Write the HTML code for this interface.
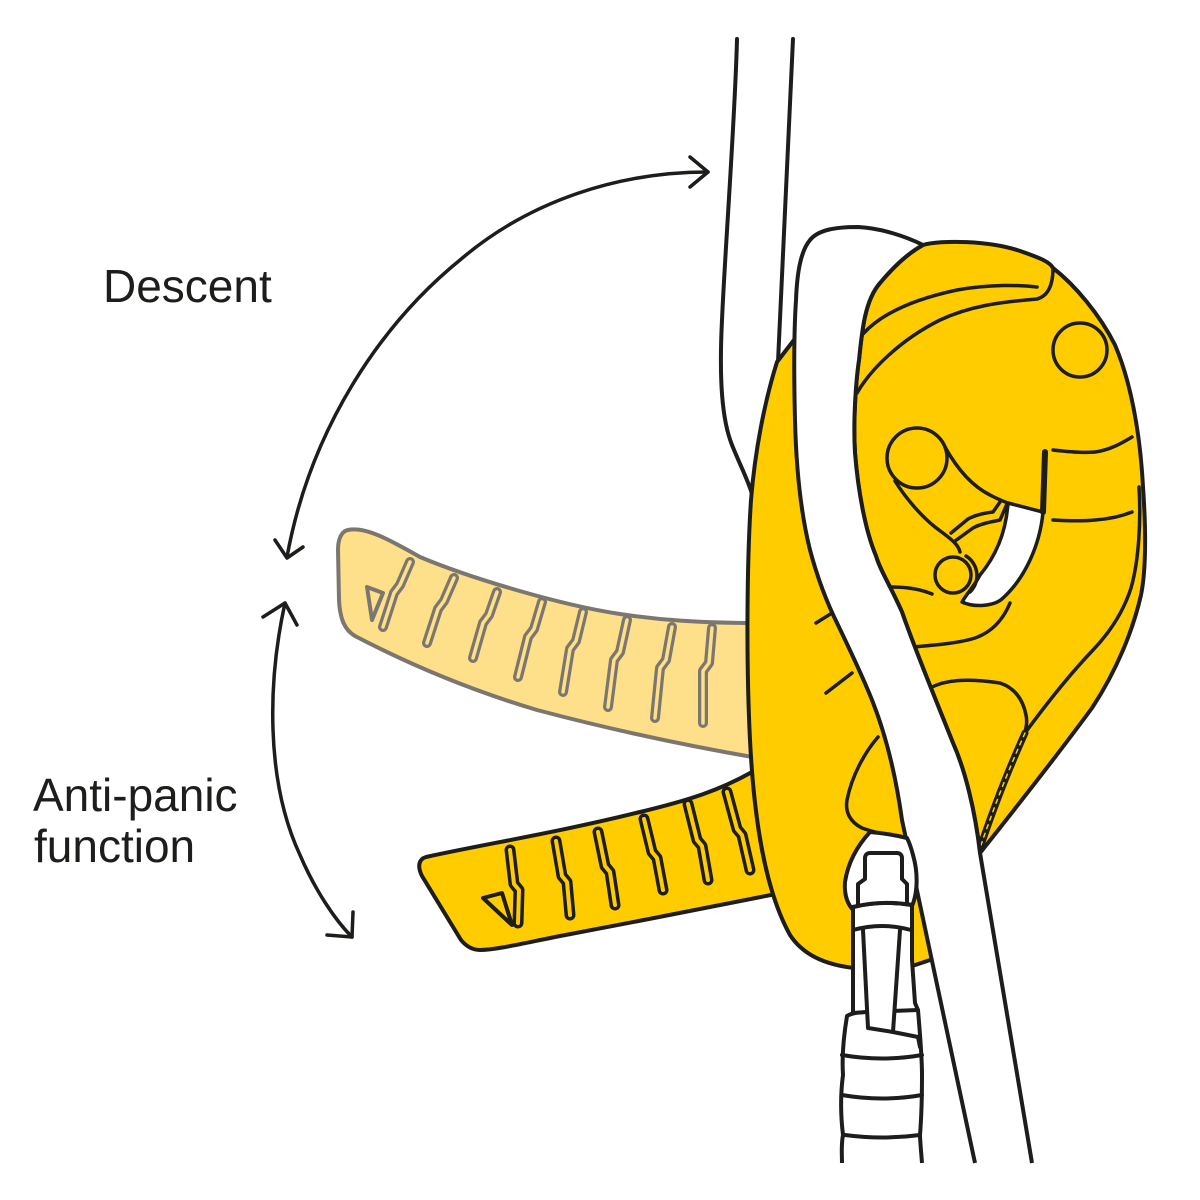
<!DOCTYPE html>
<html><head><meta charset="utf-8"><style>
html,body{margin:0;padding:0;background:#fff;}
svg{display:block;}
text{font-family:"Liberation Sans",Arial,sans-serif;fill:#1d1d1b;}
</style></head><body>
<svg width="1200" height="1200" viewBox="0 0 1200 1200" xmlns="http://www.w3.org/2000/svg">
<rect width="1200" height="1200" fill="#fff"/>
<g fill="none" stroke="#1d1d1b" stroke-linecap="round" stroke-linejoin="round">

<!-- arrows -->
<g stroke-width="3.5">
<path d="M708,172 C620,172 530,200 460,260 C380,325 310,430 287,557"/>
<path d="M690,157 L708,172 L690,187"/>
<path d="M275,540 L287,558 L303,547"/>
<path d="M285,603 C268,680 265,780 300,855 C315,890 335,920 352,937"/>
<path d="M263,617 L285,603 L297,625"/>
<path d="M327,935 L352,937 L353,912"/>
</g>

<!-- faded handle -->
<path d="M348,530 C365,526 390,540 420,557 C470,578 560,605 620,614 C660,620 700,623 758,623 L758,758 C700,748 620,732 537,710 C480,693 420,670 355,636 C345,630 340,620 339,600 L338,550 C338,538 342,531 348,530 Z" fill="#FEE08A" stroke="#7b7770" stroke-width="4"/>
<g stroke="#7b7770" stroke-width="10">
<path d="M410,562 L400,585 L394,593 L383,627"/>
<path d="M454,578 L444,601 L438,609 L427,643"/>
<path d="M497,592 L489,615 L483,623 L473,658"/>
<path d="M542,602 L534,629 L528,637 L518,677"/>
<path d="M583,612 L576,641 L570,649 L563,692"/>
<path d="M627,620 L620,652 L614,660 L608,707"/>
<path d="M672,627 L666,660 L660,668 L655,718"/>
<path d="M712,628 L709,663 L703,671 L703,723"/>
</g>
<g stroke="#FEE08A" stroke-width="3.5">
<path d="M410,562 L400,585 L394,593 L383,627"/>
<path d="M454,578 L444,601 L438,609 L427,643"/>
<path d="M497,592 L489,615 L483,623 L473,658"/>
<path d="M542,602 L534,629 L528,637 L518,677"/>
<path d="M583,612 L576,641 L570,649 L563,692"/>
<path d="M627,620 L620,652 L614,660 L608,707"/>
<path d="M672,627 L666,660 L660,668 L655,718"/>
<path d="M712,628 L709,663 L703,671 L703,723"/>
</g>
<path d="M367,587 L383,593 L372,620 Z" fill="#FEE08A" stroke="#7b7770" stroke-width="4"/>

<!-- lower handle -->
<path d="M426,857 C480,845 560,832 640,812 C690,800 720,790 752,772 L772,772 L776,894 C720,905 620,925 555,937 C520,944 495,950 480,950 C472,950 466,946 461,940 L422,876 C417,866 419,859 426,857 Z" fill="#FFCC00" stroke-width="4"/>
<g stroke-width="11">
<path d="M510,850 L514,884 L519,890 L518,923"/>
<path d="M556,841 L562,876 L567,882 L570,915"/>
<path d="M598,832 L605,866 L610,872 L615,905"/>
<path d="M644,819 L652,852 L657,858 L663,890"/>
<path d="M688,804 L697,840 L702,846 L708,880"/>
<path d="M727,792 L737,829 L742,835 L750,870"/>
</g>
<g stroke="#FFCC00" stroke-width="4">
<path d="M510,850 L514,884 L519,890 L518,923"/>
<path d="M556,841 L562,876 L567,882 L570,915"/>
<path d="M598,832 L605,866 L610,872 L615,905"/>
<path d="M644,819 L652,852 L657,858 L663,890"/>
<path d="M688,804 L697,840 L702,846 L708,880"/>
<path d="M727,792 L737,829 L742,835 L750,870"/>
</g>
<path d="M483,898 L502,893 L512,925 Z" fill="#FFCC00" stroke-width="4"/>

<!-- top rope lines -->
<g stroke-width="4">
<path d="M737,39 C735,120 725,250 722,320 C719,380 722,420 732,445 C740,465 748,480 752,494"/>
<path d="M793,39 L778,362"/>
</g>

<!-- back plate -->
<path d="M797,336 L777,362 C765,400 755,450 751,500 C747,560 746,660 750,740 C754,820 765,890 790,935 C803,955 825,965 855,968 L912,966 C925,962 935,958 945,955 L905,800 L850,620 L812,480 L805,336 Z" fill="#FFCC00" stroke-width="4"/>
<g stroke-width="3.5">
<path d="M816,623 L832,613"/>
<path d="M826,693 L852,673"/>
<path d="M878,737 C865,752 852,775 847,800 C845,812 850,822 862,828 C875,833 895,836 907,843"/>
</g>

<!-- front body -->
<path d="M923,245 C940,240 990,240 1023,252 C1040,258 1050,262 1053,268 C1075,285 1100,315 1115,345 C1130,380 1140,430 1143,487 C1146,530 1146,570 1141,595 C1133,630 1117,670 1092,708 C1070,738 1030,790 980,853 C975,810 965,770 953,743 C940,710 915,650 902,612 C890,585 880,570 876,556 C865,530 858,490 855,453 C853,420 856,380 859,360 C862,330 865,300 880,283 C895,265 910,252 923,245 Z" fill="#FFCC00" stroke-width="4"/>
<g stroke-width="3.5">
<path d="M863,334 C880,315 910,300 957,290 C990,284 1020,285 1037,287"/>
<path d="M857,393 C870,370 900,340 940,320 C970,306 1000,302 1037,299 C1048,296 1053,285 1053,268"/>
<circle cx="1080" cy="350" r="27"/>
<circle cx="917" cy="458" r="30"/>
<path d="M945,447 C955,465 970,485 990,495 C1005,503 1020,508 1040,512"/>
<path d="M895,481 C905,497 920,515 935,527 C948,537 958,543 960,552"/>
<path d="M951,533 L968,519 C975,515 985,513 993,512 L1000,502"/>
<path d="M955,541 L973,528 C980,524 990,522 1000,520 L1007,504"/>
<path d="M1043,512 C1040,545 1025,578 1003,598 C995,606 975,608 962,602 C968,592 975,585 980,575 C995,557 1006,533 1008,503 Z" fill="#fff"/>
<circle cx="953" cy="575" r="18" fill="#FFCC00"/>
<path d="M966,556 A23,23 0 0 1 970,592"/>
<path d="M1053,450 C1070,452 1085,453 1095,452 C1110,450 1122,443 1132,437"/>
<path d="M1053,520 C1070,521 1085,521 1095,520 C1110,519 1122,516 1132,512"/>
<path d="M892,587 C905,587 920,589 932,594"/>
<path d="M913,647 C935,645 960,643 975,638 C992,632 1003,620 1010,603"/>
<path d="M930,688 C945,680 965,678 1000,683 C1015,688 1023,700 1026,715 C1028,725 1025,733 1022,737"/>
<path d="M1139,487 C1141,520 1139,560 1131,588 C1124,610 1112,630 1093,650 C1072,672 1047,703 1025,733"/>
</g>
<path d="M1045,452 L1043,512" stroke-width="6"/>
<path d="M1025,733 C1013,760 1000,790 981,845" stroke-width="7"/>
<path d="M1025,733 C1013,760 1000,790 981,845" stroke="#FFCC00" stroke-width="1.5" stroke-dasharray="4 5"/>

<!-- rope band over device -->
<path d="M923,245 C905,236 880,228 858,227 C835,227 818,230 810,240 C800,252 797,275 796,300 C794,330 794,380 795,420 C796,460 800,510 810,550 C818,580 828,605 838,625 C850,650 862,675 872,700 C884,730 895,770 902,820 L975,1163 L1032,1163 L980,853 C975,810 965,770 953,743 C940,710 915,650 902,612 C890,585 880,570 876,556 C865,530 858,490 855,453 C853,420 856,380 859,360 C862,330 865,300 880,283 C895,265 910,252 923,245 Z" fill="#fff" stroke="none"/>
<g stroke-width="4">
<path d="M923,245 C905,236 880,228 858,227 C835,227 818,230 810,240 C800,252 797,275 796,300 C794,330 794,380 795,420 C796,460 800,510 810,550 C818,580 828,605 838,625 C850,650 862,675 872,700 C884,730 895,770 902,820 L975,1163" stroke-linecap="butt"/>
<path d="M923,245 C910,252 895,265 880,283 C865,300 862,330 859,360 C856,380 853,420 855,453 C858,490 865,530 876,556 C880,570 890,585 902,612 C915,650 940,710 953,743 C965,770 975,810 980,853 L1032,1163" stroke-linecap="butt"/>
</g>

<!-- carabiner -->
<g stroke-width="4">
<path d="M870,832 C858,845 848,862 845,882 C844,896 848,905 854,911 L912,906 C918,892 918,872 913,855 C911,847 909,842 907,838 C895,835 882,833 870,832 Z" fill="#fff"/>
<path d="M847,1016 C843,1040 842,1060 843,1075 C841,1090 840,1110 843,1135 C841,1145 842,1155 842,1166 L922,1166 C921,1150 920,1140 920,1135 C922,1110 922,1090 922,1075 C922,1060 921,1045 918,1010 C912,1004 900,1005 893,1007 L866,1012 C858,1012 852,1013 847,1016 Z" fill="#fff" stroke="none"/>
<path d="M842,1163 C842,1155 841,1145 843,1135 C840,1110 841,1090 843,1075 C842,1060 843,1040 847,1016 C852,1013 858,1012 866,1012" stroke-linecap="butt"/>
<path d="M893,1007 C900,1005 912,1004 918,1010 C921,1045 922,1060 922,1075 C922,1090 922,1110 920,1135 C920,1140 921,1150 922,1163" stroke-linecap="butt"/>
<path d="M842,1055 Q882,1062 922,1055"/>
<path d="M842,1095 Q882,1102 922,1095"/>
<path d="M845,1135 Q882,1140 920,1135"/>
<path d="M853,907 Q882,900 912,905 L912,960 L915,1003 L918,1010 L866,1012 L853,1013 Z" fill="#fff"/>
<path d="M858,905 L858,884 L865,879 L865,858 C865,855 867,853 870,853 L897,853 C900,853 902,855 902,858 L902,879 L907,884 L907,904" fill="#fff"/>
<path d="M853,907 Q882,900 912,905"/>
<path d="M853,930 Q882,922 911,930"/>
<path d="M863,930 L868,1028 L893,1032 L900,930" fill="#fff"/>
<path d="M893,1032 L918,1037 L920,1047"/>
</g>
</g>

<!-- labels -->
<text x="103" y="302" font-size="46">Descent</text>
<text x="33" y="811" font-size="46">Anti-panic</text>
<text x="34" y="862" font-size="46">function</text>
</svg>
</body></html>
